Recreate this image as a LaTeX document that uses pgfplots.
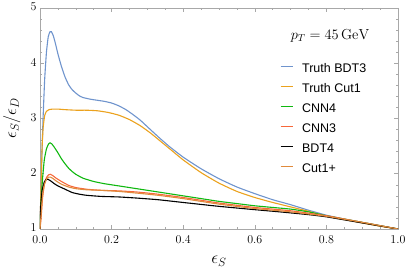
\documentclass[border=0pt]{standalone}
\usepackage{fontspec}
\newfontfamily\arial{Liberation Sans}
\usepackage{pgfplots}
\pgfplotsset{compat=1.18}
\definecolor{cBlue}{HTML}{6F94CD}
\definecolor{cOrange}{HTML}{EBA21E}
\definecolor{cGreen}{HTML}{10B810}
\definecolor{cRed}{HTML}{F7683A}
\definecolor{cCut}{HTML}{E08A3C}
\definecolor{cFrame}{HTML}{A8A8A8}
\begin{document}
\begin{tikzpicture}
\begin{axis}[
  at={(0,0)}, anchor=south west,
  scale only axis, width=358pt, height=221pt,
  xmin=0, xmax=1, ymin=1, ymax=5,
  xtick={0,0.2,...,1.0}, ytick={1,2,3,4,5},
  xticklabels={0.0,0.2,0.4,0.6,0.8,1.0},
  minor x tick num=3, minor y tick num=4,
  tick align=inside, ticks=both,
  major tick length=4pt, minor tick length=2pt,
  axis line style={cFrame},
  every tick/.style={cFrame, line width=0.5pt},
  tick label style={font=\fontsize{12}{14}\selectfont, black},
  xticklabel style={yshift=-3pt},
  yticklabel style={yshift=1pt},
  xlabel={$\epsilon_S$}, ylabel={$\epsilon_S/\epsilon_D$},
  label style={font=\fontsize{17}{20}\selectfont},
  xlabel style={at={(axis description cs:0.5,0)}, anchor=north, yshift=-24pt},
  ylabel style={at={(axis description cs:0,0.5)}, anchor=south, yshift=16pt},
  legend style={draw=none, fill=none, at={(0.67,0.751)}, anchor=north west,
    font=\arial\fontsize{12.5}{14}\selectfont, inner sep=0pt, row sep=8pt, column sep=9pt,
    nodes={inner sep=0pt, text height=9pt, text depth=3pt}},
  legend cell align=left,
  legend image code/.code={\draw[#1, line width=1.1pt] (0pt,3pt) -- (12pt,3pt);},
  every axis plot/.append style={line width=1.1pt, smooth, tension=0.3},
]
\addplot[cBlue] coordinates {(0,1) (0.003,1.8) (0.008,2.9) (0.013,3.7) (0.018,4.2) (0.023,4.48) (0.028,4.57) (0.032,4.57) (0.037,4.5) (0.043,4.36) (0.05,4.17) (0.06,3.94) (0.07,3.75) (0.08,3.61) (0.09,3.52) (0.10,3.46) (0.11,3.41) (0.12,3.38) (0.14,3.35) (0.16,3.33) (0.18,3.31) (0.20,3.28) (0.22,3.23) (0.24,3.16) (0.26,3.07) (0.28,2.97) (0.30,2.85) (0.33,2.67) (0.36,2.50) (0.40,2.30) (0.45,2.09) (0.50,1.91) (0.55,1.76) (0.60,1.64) (0.65,1.53) (0.70,1.44) (0.75,1.34) (0.80,1.25) (0.85,1.18) (0.90,1.12) (0.95,1.06) (1.0,1.0)};
\addlegendentry{Truth BDT3}
\addplot[cOrange] coordinates {(0,1) (0.003,1.8) (0.006,2.5) (0.009,2.85) (0.013,3.05) (0.018,3.13) (0.025,3.16) (0.035,3.17) (0.05,3.17) (0.07,3.16) (0.10,3.15) (0.13,3.15) (0.16,3.14) (0.19,3.11) (0.22,3.06) (0.25,2.98) (0.28,2.87) (0.31,2.73) (0.34,2.57) (0.37,2.41) (0.40,2.25) (0.45,2.02) (0.50,1.83) (0.55,1.68) (0.60,1.57) (0.65,1.48) (0.70,1.40) (0.75,1.32) (0.80,1.23) (0.85,1.17) (0.90,1.11) (0.95,1.05) (1,1)};
\addlegendentry{Truth Cut1}
\addplot[cGreen] coordinates {(0,1) (0.003,1.5) (0.007,1.9) (0.012,2.25) (0.018,2.45) (0.024,2.54) (0.028,2.56) (0.033,2.54) (0.04,2.48) (0.05,2.38) (0.06,2.27) (0.07,2.18) (0.08,2.10) (0.09,2.04) (0.10,1.99) (0.12,1.92) (0.15,1.86) (0.18,1.82) (0.22,1.78) (0.26,1.74) (0.30,1.70) (0.35,1.65) (0.40,1.60) (0.45,1.55) (0.50,1.50) (0.55,1.46) (0.60,1.42) (0.65,1.39) (0.70,1.36) (0.75,1.31) (0.80,1.24) (0.85,1.18) (0.90,1.12) (0.95,1.06) (1,1)};
\addlegendentry{CNN4}
\addplot[cRed] coordinates {(0,1) (0.003,1.2) (0.007,1.55) (0.012,1.8) (0.018,1.93) (0.024,1.98) (0.029,1.99) (0.035,1.97) (0.045,1.92) (0.06,1.86) (0.08,1.79) (0.10,1.75) (0.13,1.72) (0.17,1.70) (0.22,1.69) (0.27,1.67) (0.33,1.63) (0.40,1.57) (0.50,1.47) (0.60,1.39) (0.70,1.33) (0.80,1.24) (0.90,1.12) (1,1)};
\addlegendentry{CNN3}
\addplot[black] coordinates {(0,1) (0.002,1.4) (0.006,1.7) (0.012,1.85) (0.018,1.90) (0.022,1.90) (0.03,1.87) (0.04,1.82) (0.05,1.78) (0.07,1.72) (0.09,1.66) (0.11,1.63) (0.13,1.61) (0.17,1.59) (0.22,1.58) (0.27,1.56) (0.33,1.53) (0.40,1.48) (0.50,1.41) (0.60,1.35) (0.67,1.31) (0.75,1.26) (0.80,1.22) (0.90,1.11) (1,1)};
\addlegendentry{BDT4}
\addplot[cCut] coordinates {(0,1) (0.003,1.25) (0.007,1.6) (0.012,1.8) (0.018,1.9) (0.024,1.94) (0.029,1.94) (0.035,1.92) (0.045,1.87) (0.06,1.81) (0.08,1.76) (0.10,1.73) (0.13,1.71) (0.17,1.70) (0.22,1.68) (0.27,1.65) (0.33,1.61) (0.40,1.55) (0.50,1.45) (0.60,1.37) (0.70,1.31) (0.80,1.23) (0.90,1.12) (1,1)};
\addlegendentry{Cut1+}
\node[font=\fontsize{14.5}{16}\selectfont, anchor=center] at (axis cs:0.81,4.5) {$p_T = 45\,\mathrm{GeV}$};
\end{axis}
\pgfresetboundingbox
\path (-40pt,-51pt) rectangle (369pt,229pt);
\end{tikzpicture}
\end{document}
